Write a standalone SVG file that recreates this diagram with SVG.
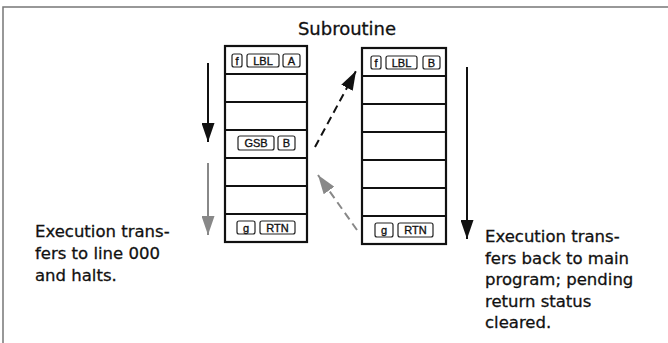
<svg xmlns="http://www.w3.org/2000/svg" width="668" height="343" viewBox="0 0 668 343">
  <style>
    .col { fill: #fff; stroke: #111; stroke-width: 2.2; }
    .row { stroke: #111; stroke-width: 2; }
    .key { fill: #fff; stroke: #222; stroke-width: 1.2; }
    .kt { font-family: "Liberation Sans", Arial, sans-serif; font-size: 11px; fill: #111; stroke: #111; stroke-width: 0.35; text-anchor: middle; }
    .lbl { font-family: "DejaVu Sans", "Liberation Sans", sans-serif; font-size: 16.5px; fill: #111; stroke: #111; stroke-width: 0.3; }
    .title { font-family: "DejaVu Sans", "Liberation Sans", sans-serif; font-size: 18px; fill: #111; stroke: #111; stroke-width: 0.3; text-anchor: middle; }
    .blk { stroke: #111; stroke-width: 2; fill: none; }
    .gry { stroke: #888; stroke-width: 2; fill: none; }
    .dash { stroke-dasharray: 8 5; }
  </style>
  <defs>
    <marker id="ah-black" markerUnits="userSpaceOnUse" markerWidth="20" markerHeight="13" refX="19" refY="6.5" orient="auto">
      <path d="M0,0 L19,6.5 L0,13 Z" fill="#111"/>
    </marker>
    <marker id="ah-grey" markerUnits="userSpaceOnUse" markerWidth="20" markerHeight="13" refX="19" refY="6.5" orient="auto">
      <path d="M0,0 L19,6.5 L0,13 Z" fill="#888"/>
    </marker>
  </defs>

  <rect width="668" height="343" fill="#fff"/>
  <g id="frame">
    <path d="M3,343 L3,7 L668,7" fill="none" stroke="#777" stroke-width="1.5"/>
  </g>

  <g id="title">
    <text class="title" x="347" y="35">Subroutine</text>
  </g>

  <g id="main-program">
    <rect class="col" x="225" y="46" width="82" height="196"/>
    <line class="row" x1="225" y1="74" x2="307" y2="74"/>
    <line class="row" x1="225" y1="102" x2="307" y2="102"/>
    <line class="row" x1="225" y1="130" x2="307" y2="130"/>
    <line class="row" x1="225" y1="158" x2="307" y2="158"/>
    <line class="row" x1="225" y1="186" x2="307" y2="186"/>
    <line class="row" x1="225" y1="214" x2="307" y2="214"/>
    <rect class="key" x="232" y="54" width="10" height="13" rx="2"/>
    <text class="kt" x="237" y="64.5">f</text>
    <rect class="key" x="247" y="54" width="32" height="13" rx="2"/>
    <text class="kt" x="263" y="64.5">LBL</text>
    <rect class="key" x="283" y="54" width="17" height="13" rx="2"/>
    <text class="kt" x="291.5" y="64.5">A</text>
    <rect class="key" x="238" y="136" width="36" height="14" rx="2"/>
    <text class="kt" x="256" y="147">GSB</text>
    <rect class="key" x="278" y="136" width="17" height="14" rx="2"/>
    <text class="kt" x="286.5" y="147">B</text>
    <rect class="key" x="237" y="221" width="18" height="13" rx="2"/>
    <text class="kt" x="246" y="231.5">g</text>
    <rect class="key" x="260" y="221" width="35" height="13" rx="2"/>
    <text class="kt" x="277.5" y="231.5">RTN</text>
  </g>

  <g id="subroutine">
    <rect class="col" x="362" y="48" width="84" height="196"/>
    <line class="row" x1="362" y1="76" x2="446" y2="76"/>
    <line class="row" x1="362" y1="104" x2="446" y2="104"/>
    <line class="row" x1="362" y1="132" x2="446" y2="132"/>
    <line class="row" x1="362" y1="160" x2="446" y2="160"/>
    <line class="row" x1="362" y1="188" x2="446" y2="188"/>
    <line class="row" x1="362" y1="216" x2="446" y2="216" stroke-width="2.5"/>
    <rect class="key" x="371" y="56" width="10" height="13" rx="2"/>
    <text class="kt" x="376" y="66.5">f</text>
    <rect class="key" x="386" y="56" width="31" height="13" rx="2"/>
    <text class="kt" x="401.5" y="66.5">LBL</text>
    <rect class="key" x="423" y="56" width="17" height="13" rx="2"/>
    <text class="kt" x="431.5" y="66.5">B</text>
    <rect class="key" x="375" y="223" width="18" height="14" rx="2"/>
    <text class="kt" x="384" y="234">g</text>
    <rect class="key" x="398" y="223" width="35" height="14" rx="2"/>
    <text class="kt" x="415.5" y="234">RTN</text>
  </g>

  <g id="connectors">
    <line class="blk" x1="208" y1="63" x2="208" y2="142" marker-end="url(#ah-black)"/>
    <line class="gry" x1="208" y1="163" x2="208" y2="235" marker-end="url(#ah-grey)"/>
    <line class="blk" x1="467" y1="67" x2="467" y2="239" marker-end="url(#ah-black)"/>
    <line class="blk dash" x1="315" y1="147" x2="356" y2="71" marker-end="url(#ah-black)"/>
    <line class="gry dash" x1="357" y1="230" x2="318" y2="175" marker-end="url(#ah-grey)"/>
  </g>

  <g id="note-left">
    <text class="lbl" x="35" y="237">Execution trans-</text>
    <text class="lbl" x="35" y="259">fers to line 000</text>
    <text class="lbl" x="35" y="281">and halts.</text>
  </g>

  <g id="note-right">
    <text class="lbl" x="485" y="242">Execution trans-</text>
    <text class="lbl" x="485" y="263.5">fers back to main</text>
    <text class="lbl" x="485" y="285">program; pending</text>
    <text class="lbl" x="485" y="306.5">return status</text>
    <text class="lbl" x="485" y="328">cleared.</text>
  </g>
</svg>
